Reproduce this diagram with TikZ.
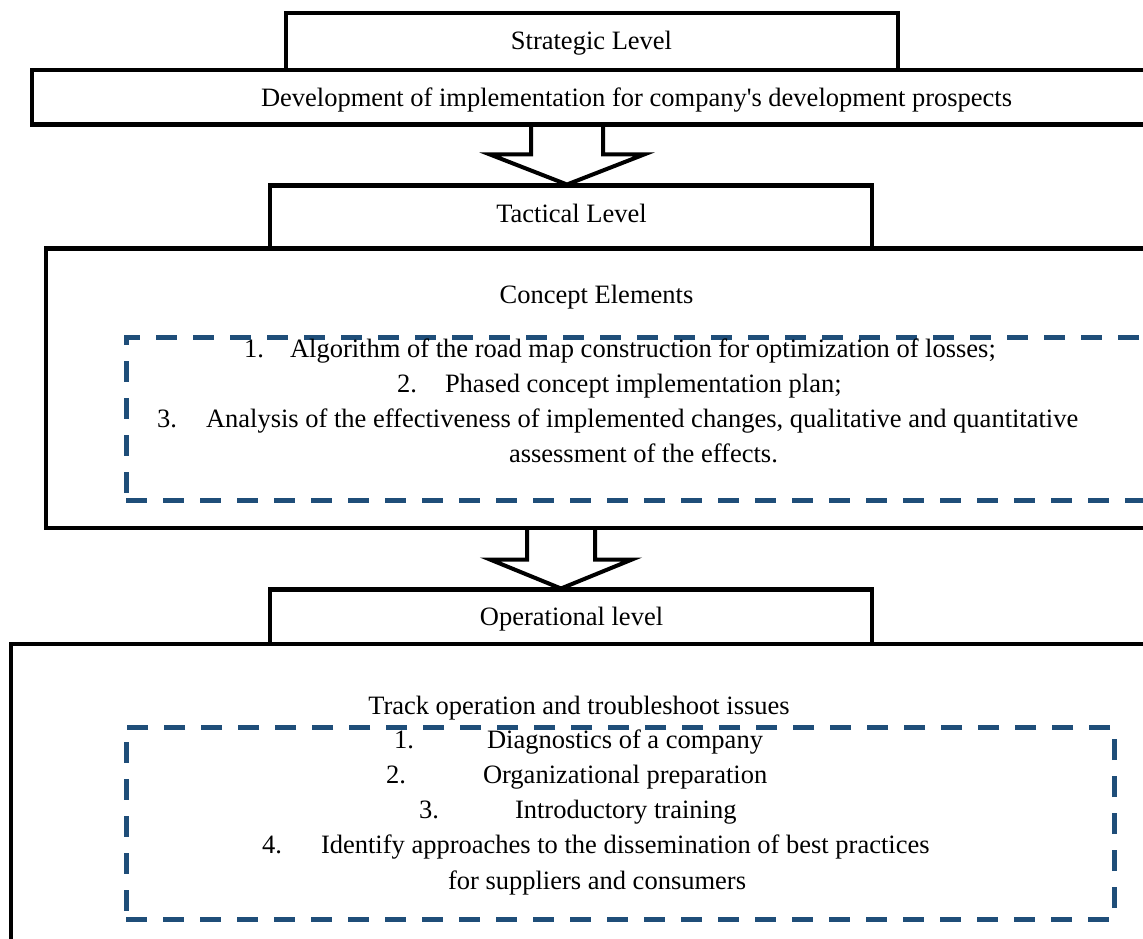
\documentclass[tikz,border=0pt]{standalone}
\usepackage{fontspec}
\setmainfont{Liberation Serif}
\usetikzlibrary{calc}
\definecolor{dashblue}{HTML}{1F4E79}
\tikzset{
  levelbox/.style={draw=black, line width=4.5pt, rectangle, inner sep=0pt, outer sep=0pt},
  dashbox/.style={draw=dashblue, line width=5pt, dash pattern=on 21pt off 16pt, rectangle, inner sep=0pt, outer sep=0pt},
  blockarr/.style={draw=black, line width=4pt, line join=miter},
  lbl/.style={font=\fontsize{26.5pt}{32pt}\selectfont, inner sep=0pt, outer sep=0pt, anchor=base},
  lblw/.style={lbl, anchor=base west},
}
\begin{document}
\begin{tikzpicture}[x=1pt,y=-1pt]
\useasboundingbox (0,0) rectangle (1143,939);
\fill[white] (0,0) rectangle (1143,939);
\clip (0,0) rectangle (1143,939);

% boxes
\node[levelbox, minimum width=612pt, minimum height=57pt] (strat) at (592,41.5) {};
\node[levelbox, minimum width=1138pt, minimum height=54.5pt] (dev) at (601,97.25) {};
\node[levelbox, minimum width=602pt, minimum height=63pt] (tac) at (571,217) {};
\node[levelbox, minimum width=1124pt, minimum height=279.5pt] (concept) at (608,388.25) {};
\node[levelbox, minimum width=602pt, minimum height=54.5pt] (op) at (571,616.75) {};
\node[levelbox, minimum width=1159pt, minimum height=336pt] (track) at (590.5,812) {};
\node[dashbox, minimum width=1054pt, minimum height=162.5pt] (dash1) at (653,418.75) {};
\node[dashbox, minimum width=988pt, minimum height=192pt] (dash2) at (620,823) {};

% block arrows
\coordinate (ax1) at (567,0);
\coordinate (ax2) at (561,0);
\draw[blockarr] let \p1=(dev.south -| ax1), \p2=(tac.north -| ax1) in
  (\x1-36pt,\y1) -- (\x1-36pt,\y2+31pt) -- (\x1-77pt,\y2+31pt) -- (\x2,\y2+1pt)
  -- (\x1+77pt,\y2+31pt) -- (\x1+36pt,\y2+31pt) -- (\x1+36pt,\y1);
\draw[blockarr] let \p1=(concept.south -| ax2), \p2=(op.north -| ax2) in
  (\x1-34pt,\y1) -- (\x1-34pt,\y2+30pt) -- (\x1-71pt,\y2+30pt) -- (\x2,\y2+1pt)
  -- (\x1+71pt,\y2+30pt) -- (\x1+34pt,\y2+30pt) -- (\x1+34pt,\y1);

% titles
\node[lbl] (tStrat) at (591.5,50) {Strategic Level};
\node[lbl] (tDev) at (636.5,107) {Development of implementation for company\textquotesingle s development prospects};
\node[lbl] (tTac) at (571.5,222) {Tactical Level};
\node[lbl] (tConcept) at (596.5,303) {Concept Elements};
\node[lbl] (tOp) at (571.5,625) {Operational level};
\node[lbl] (tTrack) at (579,714) {Track operation and troubleshoot issues};

% concept items
\node[lblw] (c1n) at (244,357) {1.};
\node[lblw] (c1t) at (290,357) {Algorithm of the road map construction for optimization of losses;};
\node[lblw] (c2n) at (397,392) {2.};
\node[lblw] (c2t) at (445,392) {Phased concept implementation plan;};
\node[lblw] (c3n) at (157,427) {3.};
\node[lblw] (c3t) at (206,427) {Analysis of the effectiveness of implemented changes, qualitative and quantitative};
\node[lblw] (c3c) at (509,462) {assessment of the effects.};

% operational items
\node[lblw] (o1n) at (394,748) {1.};
\node[lblw] (o1t) at (487,748) {Diagnostics of a company};
\node[lblw] (o2n) at (386,783) {2.};
\node[lblw] (o2t) at (483,783) {Organizational preparation};
\node[lblw] (o3n) at (419,818) {3.};
\node[lblw] (o3t) at (515,818) {Introductory training};
\node[lblw] (o4n) at (262,853) {4.};
\node[lblw] (o4t) at (321,853) {Identify approaches to the dissemination of best practices};
\node[lblw] (o4c) at (448,889) {for suppliers and consumers};
\end{tikzpicture}
\end{document}
